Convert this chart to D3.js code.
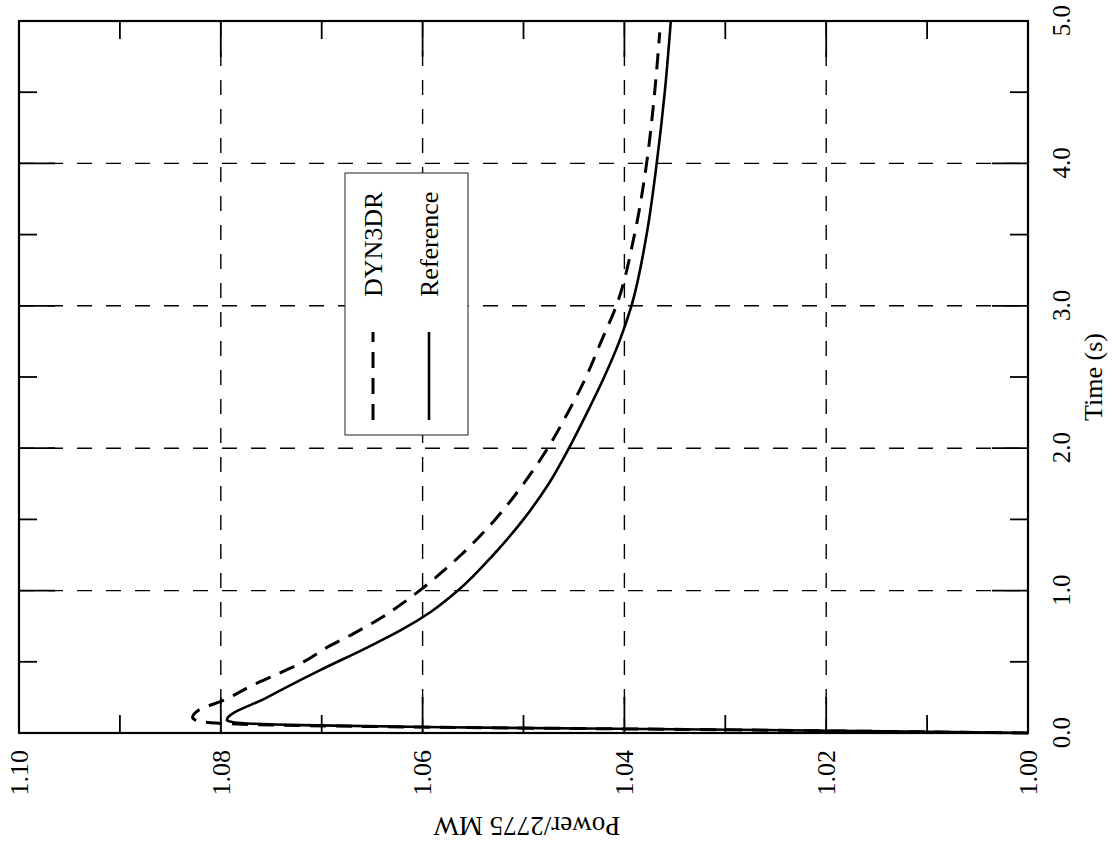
<!DOCTYPE html>
<html>
<head>
<meta charset="utf-8">
<script src="https://cdn.jsdelivr.net/npm/d3@7"></script>
<style>
  html, body { margin: 0; padding: 0; background: #fff; }
  svg { display: block; font-family: "Liberation Serif", "Times New Roman", serif; }
</style>
</head>
<body>
<svg id="chart" width="1114" height="847"></svg>
<script>
// ---- data ----
const timeTicks = [0, 1, 2, 3, 4, 5];
const timeLabels = ["0.0", "1.0", "2.0", "3.0", "4.0", "5.0"];
const powerTicks = [1.00, 1.02, 1.04, 1.06, 1.08, 1.10];
const powerLabels = ["1.00", "1.02", "1.04", "1.06", "1.08", "1.10"];
const timeMinor = [0.5, 1.5, 2.5, 3.5, 4.5];
const powerMinor = [1.01, 1.03, 1.05, 1.07, 1.09];

const seriesNames = ["DYN3DR", "Reference"];

const tDyn = [0, 0.01, 0.025, 0.04, 0.055, 0.07, 0.09, 0.11, 0.16, 0.23, 0.33, 0.42, 0.50, 0.60, 0.70, 0.80, 0.90, 1.0, 1.25, 1.5, 1.75, 2.0, 2.25, 2.5, 2.75, 3.0, 3.5, 4.0, 4.5, 4.92];
const pDyn = [1.000, 1.013, 1.034, 1.058, 1.074, 1.0805, 1.0825, 1.0828, 1.0822, 1.0797, 1.0770, 1.0742, 1.0718, 1.0695, 1.0668, 1.0643, 1.0622, 1.0603, 1.0562, 1.0528, 1.0500, 1.0476, 1.0456, 1.0438, 1.0423, 1.0408, 1.0390, 1.0378, 1.0370, 1.0365];

const tRef = [0, 0.01, 0.025, 0.04, 0.055, 0.07, 0.085, 0.09, 0.25, 0.44, 0.60, 0.72, 0.85, 1.0, 1.25, 1.5, 1.75, 2.0, 2.25, 2.5, 2.75, 3.0, 3.5, 4.0, 4.5, 5.0];
const pRef = [1.000, 1.012, 1.032, 1.058, 1.072, 1.078, 1.0793, 1.0794, 1.0754, 1.0702, 1.0655, 1.0622, 1.0592, 1.0565, 1.0530, 1.0500, 1.0475, 1.0455, 1.0437, 1.0420, 1.0405, 1.0393, 1.0378, 1.0368, 1.0360, 1.0354];

// ---- layout (chart is drawn in its own frame and rotated -90deg) ----
const W = 712, H = 1009;           // time length, power length
const svg = d3.select("#chart");
const g = svg.append("g").attr("transform", "translate(19,733) rotate(-90)");

const x = d3.scaleLinear().domain([0, 5]).range([0, W]);
const y = d3.scaleLinear().domain([1.00, 1.10]).range([H, 0]);

const gridDash = "15,14";

// grid lines
g.append("g").selectAll("line").data(timeTicks.slice(1, -1)).join("line")
  .attr("x1", d => x(d)).attr("x2", d => x(d)).attr("y1", 0).attr("y2", H)
  .attr("stroke", "#000").attr("stroke-width", 1.4).attr("stroke-dasharray", gridDash);
g.append("g").selectAll("line").data(powerTicks.slice(1, -1)).join("line")
  .attr("y1", d => y(d)).attr("y2", d => y(d)).attr("x1", 0).attr("x2", W)
  .attr("stroke", "#000").attr("stroke-width", 1.4).attr("stroke-dasharray", gridDash);

// ticks (all four sides, inward)
const tk = g.append("g").attr("stroke", "#000").attr("stroke-width", 1.8);
const majLen = 36, minLen = 18;
function vTicks(vals, len) {
  vals.forEach(d => {
    tk.append("line").attr("x1", x(d)).attr("x2", x(d)).attr("y1", H).attr("y2", H - len);
    tk.append("line").attr("x1", x(d)).attr("x2", x(d)).attr("y1", 0).attr("y2", len);
  });
}
function hTicks(vals, len) {
  vals.forEach(d => {
    tk.append("line").attr("y1", y(d)).attr("y2", y(d)).attr("x1", 0).attr("x2", len);
    tk.append("line").attr("y1", y(d)).attr("y2", y(d)).attr("x1", W).attr("x2", W - len);
  });
}
vTicks(timeTicks.slice(1, -1), majLen);
vTicks(timeMinor, minLen);
hTicks(powerTicks.slice(1, -1), majLen);
hTicks(powerMinor, minLen);

// frame
g.append("rect").attr("x", 0).attr("y", 0).attr("width", W).attr("height", H)
  .attr("fill", "none").attr("stroke", "#000").attr("stroke-width", 2.2);

// axes labels via d3 axes
const ax = g.append("g").attr("transform", `translate(0,${H})`)
  .call(d3.axisBottom(x).tickValues(timeTicks).tickFormat((d, i) => timeLabels[i]).tickSize(0).tickPadding(24));
ax.select(".domain").remove();
ax.selectAll("text").attr("font-size", 25).attr("font-family", "Liberation Serif").attr("fill", "#000");

const ay = g.append("g")
  .call(d3.axisLeft(y).tickValues(powerTicks).tickFormat((d, i) => powerLabels[i]).tickSize(0).tickPadding(17));
ay.select(".domain").remove();
ay.selectAll("text").attr("font-size", 26).attr("font-family", "Liberation Serif").attr("fill", "#000");

// axis titles
g.append("text").attr("x", W / 2).attr("y", 1083).attr("text-anchor", "middle")
  .attr("font-size", 26).text("Time (s)");
g.append("text").attr("transform", `translate(-84,${508}) rotate(-90)`).attr("text-anchor", "middle")
  .attr("font-size", 27).text("Power/2775 MW");

// curves
const line = d3.line().x(d => x(d[0])).y(d => y(d[1])).curve(d3.curveMonotoneX);
const dynData = tDyn.map((t, i) => [t, pDyn[i]]);
const refData = tRef.map((t, i) => [t, pRef[i]]);
g.append("path").datum(refData).attr("d", line)
  .attr("fill", "none").attr("stroke", "#000").attr("stroke-width", 2.6);
g.append("path").datum(dynData).attr("d", line)
  .attr("fill", "none").attr("stroke", "#000").attr("stroke-width", 3).attr("stroke-dasharray", "16,10");

// legend
const lg = g.append("g");
lg.append("rect").attr("x", 298).attr("y", 326).attr("width", 262).attr("height", 123)
  .attr("fill", "#fff").attr("stroke", "#444").attr("stroke-width", 1.2);
const legendRows = [
  { name: seriesNames[0], v: 354, dash: "16,10", w: 3 },
  { name: seriesNames[1], v: 410, dash: null, w: 2.6 }
];
legendRows.forEach(r => {
  const l = lg.append("line").attr("x1", 313).attr("x2", 401).attr("y1", r.v).attr("y2", r.v)
    .attr("stroke", "#000").attr("stroke-width", r.w);
  if (r.dash) l.attr("stroke-dasharray", r.dash);
  lg.append("text").attr("x", 436).attr("y", r.v + 9).attr("font-size", 26).text(r.name);
});
</script>
</body>
</html>
